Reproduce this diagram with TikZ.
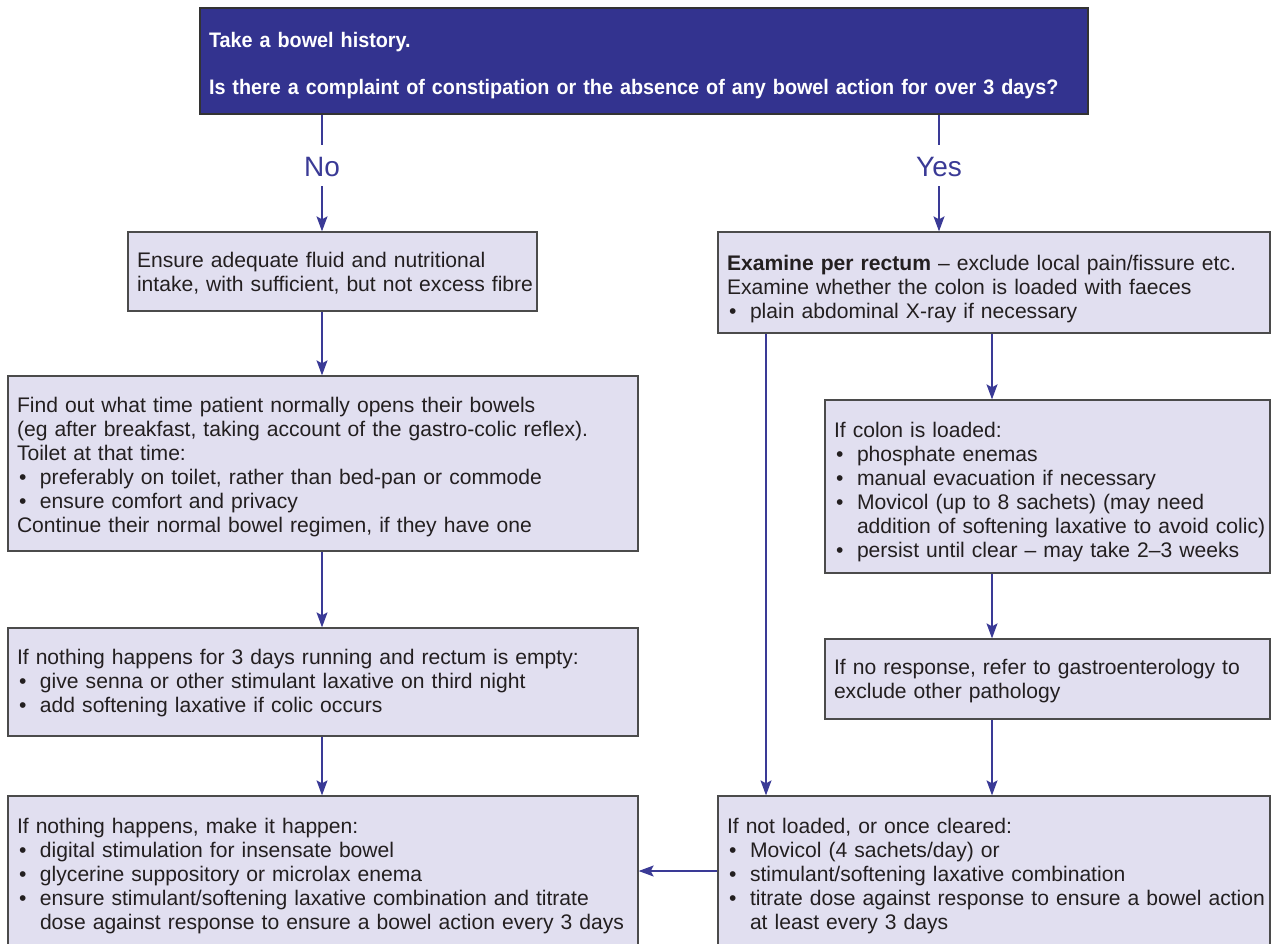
\documentclass[tikz,border=0pt]{standalone}
\usepackage{fontspec}
\setmainfont{Liberation Sans}
\newfontfamily\titlefnt{Liberation Sans}[FakeStretch=0.942]
\usetikzlibrary{arrows.meta,calc}
\definecolor{arrcol}{RGB}{58,58,150}
\definecolor{topfill}{RGB}{51,51,143}
\definecolor{boxfill}{RGB}{225,223,240}
\definecolor{boxline}{RGB}{75,75,75}
\definecolor{txtcol}{RGB}{35,31,32}
\newcommand{\bitem}[1]{\par\leavevmode\hbox to 23pt{\hspace{2pt}\textbullet\hfil}\mbox{#1}}
\newcommand{\bcont}[1]{\par\leavevmode\hspace*{23pt}\mbox{#1}}
\begin{document}
\begin{tikzpicture}[x=1pt,y=-1pt,
  box/.style={draw=boxline, fill=boxfill, line width=1.3pt, inner xsep=9pt, inner ysep=0pt,
    align=left, text=txtcol, font=\fontsize{21.1}{24}\selectfont\setlength{\parindent}{0pt}},
  topbox/.style={draw=black!80, fill=topfill, line width=1.3pt, inner xsep=9pt, inner ysep=0pt,
    align=left, text=white, font=\titlefnt\bfseries\fontsize{21}{47}\selectfont},
  arr/.style={draw=arrcol, line width=1.2pt, -{Stealth[length=15pt,width=11pt,inset=3pt]}},
  lbl/.style={fill=white, text=arrcol, font=\fontsize{28}{30}\selectfont, text height=21pt, text depth=0pt, inner xsep=2pt, inner ysep=10pt}
]
\useasboundingbox (0,0) rectangle (1271,944);
\fill[white] (0,0) rectangle (1271,944);

\node[topbox, minimum width=888pt, minimum height=106pt, text width=870pt, text height=25pt] (top) at (644,61)
  {Take a bowel history.\\Is there a complaint of constipation or the absence of any bowel action for over 3 days?};

\node[box, minimum width=409pt, minimum height=79pt, text width=391pt, text height=19.5pt] (A) at (332.5,271.5)
  {Ensure adequate fluid and nutritional\\\mbox{intake, with sufficient, but not excess fibre}};

\node[box, minimum width=630pt, minimum height=175pt, text width=612pt, text height=21.5pt] (B) at (323,463.5)
  {Find out what time patient normally opens their bowels\\
   (eg after breakfast, taking account of the gastro-colic reflex).\\
   Toilet at that time:
   \bitem{preferably on toilet, rather than bed-pan or commode}
   \bitem{ensure comfort and privacy}
   \par Continue their normal bowel regimen, if they have one};

\node[box, minimum width=630pt, minimum height=108pt, text width=612pt, text height=17.5pt] (C) at (323,682)
  {If nothing happens for 3 days running and rectum is empty:
   \bitem{give senna or other stimulant laxative on third night}
   \bitem{add softening laxative if colic occurs}};

\node[box, minimum width=630pt, minimum height=161pt, text width=612pt] (D) at (323,876.5)
  {If nothing happens, make it happen:
   \bitem{digital stimulation for insensate bowel}
   \bitem{glycerine suppository or microlax enema}
   \bitem{ensure stimulant/softening laxative combination and titrate}
   \bcont{dose against response to ensure a bowel action every 3 days}};

\node[box, minimum width=552pt, minimum height=101pt, text width=534pt, text height=27.5pt] (E) at (994,282.5)
  {\textbf{Examine per rectum} -- exclude local pain/fissure etc.\\
   Examine whether the colon is loaded with faeces
   \bitem{plain abdominal X-ray if necessary}};

\node[box, minimum width=445pt, minimum height=173pt, text width=427pt, text height=25.5pt] (F) at (1047.5,486.5)
  {If colon is loaded:
   \bitem{phosphate enemas}
   \bitem{manual evacuation if necessary}
   \bitem{Movicol (up to 8 sachets) (may need}
   \bcont{addition of softening laxative to avoid colic)}
   \bitem{persist until clear -- may take 2--3 weeks}};

\node[box, minimum width=445pt, minimum height=80pt, text width=427pt, text height=19.5pt] (G) at (1047.5,679)
  {If no response, refer to gastroenterology to\\exclude other pathology};

\node[box, minimum width=552pt, minimum height=161pt, text width=534pt] (H) at (994,876.5)
  {If not loaded, or once cleared:
   \bitem{Movicol (4 sachets/day) or}
   \bitem{stimulant/softening laxative combination}
   \bitem{titrate dose against response to ensure a bowel action}
   \bcont{at least every 3 days}};

\coordinate (xL) at (322,0);
\coordinate (xR) at (939,0);
\coordinate (xE) at (766,0);
\coordinate (xF) at (992,0);
\coordinate (yH) at (0,871);

\draw[arr] (top.south -| xL) -- node[lbl, pos=0.44]{No} (A.north -| xL);
\draw[arr] (top.south -| xR) -- node[lbl, pos=0.44]{Yes} (E.north -| xR);
\draw[arr] (A.south -| xL) -- (B.north -| xL);
\draw[arr] (B.south -| xL) -- (C.north -| xL);
\draw[arr] (C.south -| xL) -- (D.north -| xL);
\draw[arr] (E.south -| xF) -- (F.north -| xF);
\draw[arr] (F.south -| xF) -- (G.north -| xF);
\draw[arr] (G.south -| xF) -- (H.north -| xF);
\draw[arr] (E.south -| xE) -- (H.north -| xE);
\draw[arr] (H.west |- yH) -- (D.east |- yH);
\end{tikzpicture}
\end{document}
